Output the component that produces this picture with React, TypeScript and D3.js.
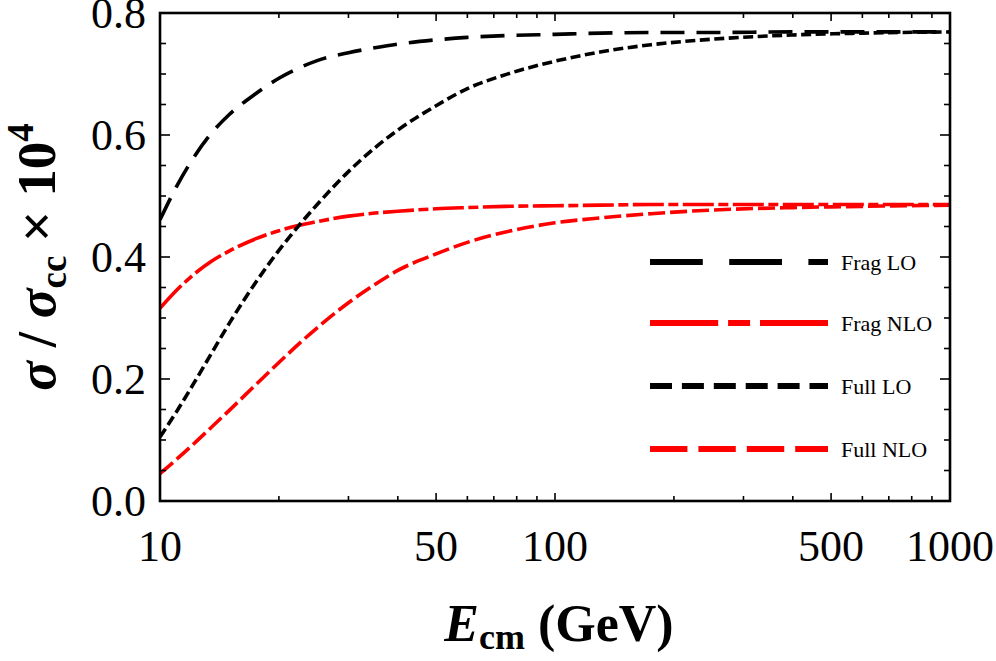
import React, { useEffect, useRef } from 'react';
import * as d3 from 'd3';

// centre-of-mass energies (GeV)
const energies = [10, 11, 12, 13.5, 15, 17.5, 20, 22.5, 25, 30, 35, 40, 50, 60, 75, 100, 130, 175, 250, 400, 600, 1000];

const fragLO = [0.461, 0.515, 0.557, 0.603, 0.634, 0.668, 0.693, 0.71, 0.722, 0.735, 0.743, 0.749, 0.756, 0.76, 0.763, 0.765, 0.767, 0.768, 0.768, 0.769, 0.769, 0.769];
const fragNLO = [0.316, 0.345, 0.368, 0.393, 0.41, 0.43, 0.443, 0.452, 0.458, 0.467, 0.472, 0.475, 0.479, 0.481, 0.483, 0.484, 0.485, 0.486, 0.486, 0.486, 0.486, 0.486];
const fullLO = [0.105, 0.146, 0.186, 0.242, 0.292, 0.359, 0.411, 0.452, 0.486, 0.54, 0.579, 0.608, 0.648, 0.676, 0.699, 0.721, 0.736, 0.748, 0.757, 0.764, 0.767, 0.769];
const fullNLO = [0.045, 0.068, 0.09, 0.121, 0.149, 0.191, 0.227, 0.258, 0.284, 0.325, 0.355, 0.378, 0.405, 0.424, 0.441, 0.456, 0.464, 0.471, 0.477, 0.481, 0.483, 0.485];

const seriesNames = ['Frag LO', 'Frag NLO', 'Full LO', 'Full NLO'];
const seriesColors = ['#000000', '#ff0000', '#000000', '#ff0000'];
const seriesDash = [[24, 12], [31, 4.5, 10, 4.5], [10, 4.5], [17, 5]];

const xTickLabels = [10, 50, 100, 500, 1000];
const xMinorTicks = [20, 30, 40, 60, 70, 80, 90, 200, 300, 400, 600, 700, 800, 900];
const yTickLabels = [0, 0.2, 0.4, 0.6, 0.8];
const yMinorTicks = [0.05, 0.1, 0.15, 0.25, 0.3, 0.35, 0.45, 0.5, 0.55, 0.65, 0.7, 0.75];

const App = () => {
  const svgRef = useRef(null);

  useEffect(() => {
    const width = 996;
    const height = 661;
    const margin = { top: 13, right: 46, bottom: 160, left: 160 };
    const innerWidth = width - margin.left - margin.right;
    const innerHeight = height - margin.top - margin.bottom;
    const font = '"Liberation Serif", "Times New Roman", serif';

    const svg = d3.select(svgRef.current);
    svg.selectAll('*').remove();
    svg.attr('width', width).attr('height', height);

    const g = svg.append('g').attr('transform', `translate(${margin.left},${margin.top})`);

    const x = d3.scaleLog().domain([10, 1000]).range([0, innerWidth]);
    const y = d3.scaleLinear().domain([0, 0.8]).range([innerHeight, 0]);

    const series = [fragLO, fragNLO, fullLO, fullNLO];

    const line = d3.line<number>()
      .x((d, i) => x(energies[i]))
      .y(d => y(d))
      .curve(d3.curveMonotoneX);

    const clipId = 'plot-clip';
    g.append('clipPath').attr('id', clipId)
      .append('rect').attr('width', innerWidth).attr('height', innerHeight);

    const curves = g.append('g').attr('clip-path', `url(#${clipId})`);
    series.forEach((vals, k) => {
      curves.append('path')
        .attr('d', line(vals))
        .attr('fill', 'none')
        .attr('stroke', seriesColors[k])
        .attr('stroke-width', 3.6)
        .attr('stroke-dasharray', seriesDash[k].join(','));
    });

    // ticks on all four sides, pointing inward
    const ticks = g.append('g').attr('stroke', '#000').attr('stroke-width', 1.6);
    const xt = (v, len) => {
      ticks.append('line').attr('x1', x(v)).attr('x2', x(v)).attr('y1', innerHeight).attr('y2', innerHeight - len);
      ticks.append('line').attr('x1', x(v)).attr('x2', x(v)).attr('y1', 0).attr('y2', len);
    };
    const yt = (v, len) => {
      ticks.append('line').attr('x1', 0).attr('x2', len).attr('y1', y(v)).attr('y2', y(v));
      ticks.append('line').attr('x1', innerWidth).attr('x2', innerWidth - len).attr('y1', y(v)).attr('y2', y(v));
    };
    xTickLabels.forEach(v => xt(v, 8));
    xMinorTicks.forEach(v => xt(v, 5));
    yTickLabels.forEach(v => yt(v, 10));
    yMinorTicks.forEach(v => yt(v, 6));

    g.append('rect')
      .attr('width', innerWidth).attr('height', innerHeight)
      .attr('fill', 'none').attr('stroke', '#000').attr('stroke-width', 2.6);

    // tick labels
    g.selectAll('.xlab').data(xTickLabels).enter().append('text')
      .attr('x', d => x(d)).attr('y', innerHeight + 60)
      .attr('text-anchor', 'middle')
      .attr('font-family', font).attr('font-size', 44)
      .text(d => String(d));

    g.selectAll('.ylab').data(yTickLabels).enter().append('text')
      .attr('x', -14).attr('y', d => y(d)).attr('dy', '0.35em')
      .attr('text-anchor', 'end')
      .attr('font-family', font).attr('font-size', 44)
      .text(d => d3.format('.1f')(d));

    // x axis title
    const xt2 = svg.append('text')
      .attr('x', margin.left + innerWidth / 2 + 4).attr('y', 641)
      .attr('text-anchor', 'middle')
      .attr('font-family', font).attr('font-size', 52).attr('font-weight', 'bold');
    xt2.append('tspan').attr('font-style', 'italic').text('E');
    xt2.append('tspan').attr('font-size', 36).attr('dy', 8).text('cm');
    xt2.append('tspan').attr('dy', -8).text(' (GeV)');

    // y axis title
    const yt2 = svg.append('text')
      .attr('transform', `translate(55,${margin.top + innerHeight / 2}) rotate(-90)`)
      .attr('text-anchor', 'middle')
      .attr('font-family', font).attr('font-size', 55).attr('font-weight', 'bold');
    yt2.append('tspan').attr('font-style', 'italic').text('σ');
    yt2.append('tspan').text(' / ');
    yt2.append('tspan').attr('font-style', 'italic').text('σ');
    yt2.append('tspan').attr('font-size', 37).attr('dy', 11).text('cc');
    yt2.append('tspan').attr('dy', -11).text(' × 10');
    yt2.append('tspan').attr('font-size', 37).attr('dy', -22).text('4');

    // legend
    const legendY = [249, 310, 373, 436];
    const leg = g.append('g');
    seriesNames.forEach((name, k) => {
      leg.append('line')
        .attr('x1', 490).attr('x2', 668)
        .attr('y1', legendY[k]).attr('y2', legendY[k])
        .attr('stroke', seriesColors[k]).attr('stroke-width', 6)
        .attr('stroke-dasharray', seriesDash[k].map(v => v * 2.2).join(','));
      leg.append('text')
        .attr('x', 681).attr('y', legendY[k]).attr('dy', '0.35em')
        .attr('font-family', font).attr('font-size', 22)
        .text(name);
    });
  }, []);

  return (
    <div style={{ position: 'absolute', left: 0, top: 0 }}>
      <svg ref={svgRef}></svg>
    </div>
  );
};

export default App;
